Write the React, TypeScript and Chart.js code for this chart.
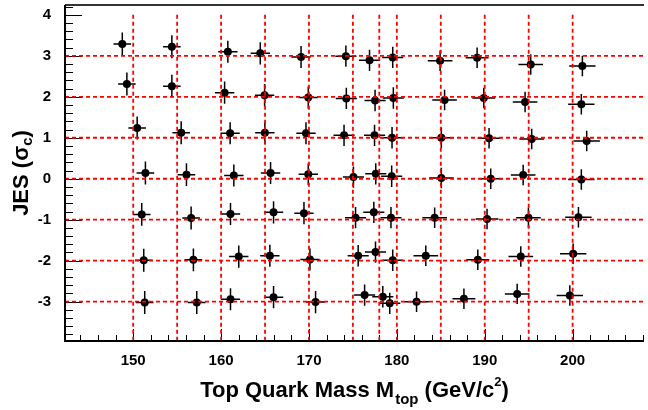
import React, { useEffect, useRef } from "react";
import { Chart, registerables } from "chart.js";

Chart.register(...registerables);

// Generated (input) top masses and JES shifts: the red reference grid
const inputMasses = [150, 155, 160, 165, 170, 175, 178, 180, 185, 190, 195, 200];
const inputJes = [3, 2, 1, 0, -1, -2, -3];

// Axis tick labels
const xTickLabels = [150, 160, 170, 180, 190, 200];
const yTickLabels = [-3, -2, -1, 0, 1, 2, 3, 4];

// Axis ranges
const xRange = [142.24, 208.12];
const yRange = [-3.96, 4.24];

// Fitted mass / JES for each input JES row (one entry per input mass)
const fitMassJesP3 = [148.76, 154.4, 160.77, 164.46, 169.1, 174.2, 176.89, 179.53, 184.92, 189.13, 195.23, 201.11];
const fitJesJesP3 = [3.29, 3.22, 3.1, 3.06, 2.97, 2.99, 2.89, 2.96, 2.88, 2.95, 2.79, 2.75];

const fitMassJesP2 = [149.28, 154.4, 160.4, 164.95, 169.92, 174.25, 177.52, 179.6, 185.43, 189.89, 194.59, 200.99];
const fitJesJesP2 = [2.31, 2.26, 2.1, 2.04, 1.98, 1.96, 1.91, 1.97, 1.92, 1.97, 1.87, 1.82];

const fitMassJesP1 = [150.45, 155.46, 161.03, 164.98, 169.66, 173.99, 177.46, 179.45, 185.06, 190.49, 195.34, 201.6];
const fitJesJesP1 = [1.24, 1.12, 1.11, 1.12, 1.11, 1.06, 1.06, 1.0, 1.0, 0.99, 0.97, 0.92];

const fitMassJes0 = [151.39, 156.06, 161.45, 165.63, 169.92, 175.06, 177.6, 179.41, 185.06, 190.68, 194.37, 200.99];
const fitJesJes0 = [0.14, 0.1, 0.08, 0.14, 0.11, 0.04, 0.12, 0.06, 0.02, 0.0, 0.09, -0.02];

const fitMassJesM1 = [150.97, 156.59, 161.07, 165.97, 169.43, 175.3, 177.38, 179.33, 184.3, 190.26, 194.97, 200.66];
const fitJesJesM1 = [-0.87, -0.96, -0.86, -0.82, -0.84, -0.95, -0.82, -0.95, -0.95, -0.98, -0.95, -0.94];

const fitMassJesM2 = [151.2, 156.85, 162.01, 165.55, 170.11, 175.6, 177.57, 179.53, 183.29, 189.21, 194.1, 200.06];
const fitJesJesM2 = [-1.99, -1.98, -1.9, -1.88, -1.97, -1.88, -1.79, -1.99, -1.88, -1.98, -1.9, -1.83];

const fitMassJesM3 = [151.31, 157.23, 161.07, 165.97, 170.75, 176.33, 178.4, 179.19, 182.24, 187.63, 193.69, 199.68];
const fitJesJesM3 = [-3.02, -3.02, -2.94, -2.89, -3.01, -2.84, -2.88, -3.04, -3.0, -2.93, -2.81, -2.85];

// Uncertainties per input mass column
const massErrByColumn = [1.0, 1.0, 1.1, 1.1, 1.1, 1.2, 1.2, 1.2, 1.4, 1.3, 1.4, 1.5];
const jesErrByColumn = [0.28, 0.28, 0.27, 0.27, 0.27, 0.26, 0.26, 0.26, 0.25, 0.25, 0.25, 0.25];

const massRows = [fitMassJesP3, fitMassJesP2, fitMassJesP1, fitMassJes0, fitMassJesM1, fitMassJesM2, fitMassJesM3];
const jesRows = [fitJesJesP3, fitJesJesP2, fitJesJesP1, fitJesJes0, fitJesJesM1, fitJesJesM2, fitJesJesM3];

type Pt = { x: number; y: number; xe: number; ye: number };

const points: Pt[] = [];
massRows.forEach((row, r) => {
  row.forEach((m, c) => {
    points.push({ x: m, y: jesRows[r][c], xe: massErrByColumn[c], ye: jesErrByColumn[c] });
  });
});

const FONT = "'Liberation Sans', 'Helvetica', 'Arial', sans-serif";

type Seg = { text: string; size: number; dy: number; gap?: number };

function drawRich(ctx: CanvasRenderingContext2D, segs: Seg[]) {
  let total = 0;
  const widths = segs.map((s) => {
    ctx.font = `bold ${s.size}px ${FONT}`;
    const w = ctx.measureText(s.text).width + (s.gap || 0);
    total += w;
    return w;
  });
  let x = -total / 2;
  segs.forEach((s, i) => {
    ctx.font = `bold ${s.size}px ${FONT}`;
    ctx.fillText(s.text, x + (s.gap || 0), s.dy);
    x += widths[i];
  });
}

const rootStyle = {
  id: "rootStyle",
  beforeDatasetsDraw(chart: any) {
    const { ctx, chartArea: a, scales } = chart;
    const xs = scales.x;
    const ys = scales.y;
    ctx.save();
    ctx.strokeStyle = "#000";
    ctx.lineWidth = 1;
    // inward ticks on the y axis (minor every 0.2, major every 1)
    for (let i = Math.ceil(yRange[0] * 5); i <= Math.floor(yRange[1] * 5); i++) {
      const py = Math.round(ys.getPixelForValue(i / 5)) + 0.5;
      const len = i % 5 === 0 ? 17 : 8;
      ctx.beginPath();
      ctx.moveTo(a.left, py);
      ctx.lineTo(a.left + len, py);
      ctx.stroke();
    }
    // inward ticks on the x axis (minor every 2, major every 10)
    for (let i = Math.ceil(xRange[0] / 2); i <= Math.floor(xRange[1] / 2); i++) {
      const v = i * 2;
      const px = Math.round(xs.getPixelForValue(v)) + 0.5;
      const len = v % 10 === 0 ? 12 : 6;
      ctx.beginPath();
      ctx.moveTo(px, a.bottom);
      ctx.lineTo(px, a.bottom - len);
      ctx.stroke();
    }
    // error bars
    ctx.lineWidth = 1.5;
    points.forEach((p) => {
      const cx = xs.getPixelForValue(p.x);
      const cy = ys.getPixelForValue(p.y);
      ctx.beginPath();
      ctx.moveTo(xs.getPixelForValue(p.x - p.xe), cy);
      ctx.lineTo(xs.getPixelForValue(p.x + p.xe), cy);
      ctx.moveTo(cx, ys.getPixelForValue(p.y - p.ye));
      ctx.lineTo(cx, ys.getPixelForValue(p.y + p.ye));
      ctx.stroke();
    });
    ctx.restore();
  },
  afterDatasetsDraw(chart: any) {
    const { ctx, chartArea: a } = chart;
    ctx.save();
    ctx.lineWidth = 2;
    ctx.strokeStyle = "#333";
    ctx.beginPath();
    ctx.moveTo(a.left, a.top);
    ctx.lineTo(a.right, a.top);
    ctx.stroke();
    ctx.strokeStyle = "#000";
    ctx.beginPath();
    ctx.moveTo(a.left, a.top);
    ctx.lineTo(a.left, a.bottom);
    ctx.lineTo(a.right, a.bottom);
    ctx.stroke();
    ctx.restore();
  },
  afterDraw(chart: any) {
    const { ctx, chartArea: a } = chart;
    ctx.save();
    ctx.fillStyle = "#000";
    ctx.textBaseline = "alphabetic";
    ctx.textAlign = "left";
    // x-axis title
    ctx.save();
    ctx.translate((a.left + a.right) / 2, 397);
    drawRich(ctx, [
      { text: "Top Quark Mass M", size: 22, dy: 0 },
      { text: "top", size: 15, dy: 7, gap: 1 },
      { text: " (GeV/c", size: 22, dy: 0 },
      { text: "2", size: 13, dy: -11 },
      { text: ")", size: 22, dy: 0 },
    ]);
    ctx.restore();
    // y-axis title
    ctx.save();
    ctx.translate(28, (a.top + a.bottom) / 2);
    ctx.rotate(-Math.PI / 2);
    drawRich(ctx, [
      { text: "JES (σ", size: 22, dy: 0 },
      { text: "c", size: 15, dy: 4 },
      { text: ")", size: 22, dy: 0 },
    ]);
    ctx.restore();
    ctx.restore();
  },
};

export default function App() {
  const canvasRef = useRef<HTMLCanvasElement | null>(null);

  useEffect(() => {
    document.body.style.margin = "0";
    const canvas = canvasRef.current;
    if (!canvas) return;

    const gridStyle = {
      borderColor: "#ff0000",
      borderWidth: 1.8,
      borderDash: [4, 3],
      pointRadius: 0,
      showLine: true,
      order: 0,
    };

    const verticals = inputMasses.map((m) => ({
      ...gridStyle,
      data: [
        { x: m, y: 4 },
        { x: m, y: yRange[0] },
      ],
    }));
    const horizontals = inputJes.map((j) => ({
      ...gridStyle,
      data: [
        { x: xRange[0], y: j },
        { x: xRange[1], y: j },
      ],
    }));

    const tickFont = { family: FONT, weight: "bold" as const, size: 15 };

    const chart = new Chart(canvas, {
      type: "scatter",
      data: {
        datasets: [
          ...verticals,
          ...horizontals,
          {
            data: points.map((p) => ({ x: p.x, y: p.y })),
            backgroundColor: "#000",
            borderColor: "#000",
            borderWidth: 0,
            pointRadius: 4,
            pointHoverRadius: 4,
            order: 1,
          },
        ] as any,
      },
      options: {
        animation: false,
        responsive: false,
        devicePixelRatio: 1,
        layout: { padding: { top: 5, right: 0, left: 0, bottom: 0 } },
        plugins: { legend: { display: false }, tooltip: { enabled: false } },
        scales: {
          x: {
            type: "linear",
            min: xRange[0],
            max: xRange[1],
            grid: { display: false },
            border: { display: false },
            afterBuildTicks: (s: any) => {
              s.ticks = xTickLabels.map((v) => ({ value: v }));
            },
            afterFit: (s: any) => {
              s.height = 69;
              s.paddingLeft = 0;
              s.paddingRight = 0;
            },
            ticks: {
              font: tickFont,
              color: "#000",
              padding: 3,
              maxRotation: 0,
              autoSkip: false,
            },
          },
          y: {
            type: "linear",
            min: yRange[0],
            max: yRange[1],
            grid: { display: false },
            border: { display: false },
            afterBuildTicks: (s: any) => {
              s.ticks = yTickLabels.map((v) => ({ value: v }));
            },
            afterFit: (s: any) => {
              s.width = 65;
              s.paddingTop = 0;
              s.paddingBottom = 0;
            },
            ticks: {
              font: tickFont,
              color: "#000",
              padding: 6,
              autoSkip: false,
            },
          },
        },
      },
      plugins: [rootStyle],
    });

    return () => chart.destroy();
  }, []);

  return (
    <div style={{ width: 648, height: 410 }}>
      <canvas ref={canvasRef} width={648} height={410} style={{ display: "block" }} />
    </div>
  );
}
